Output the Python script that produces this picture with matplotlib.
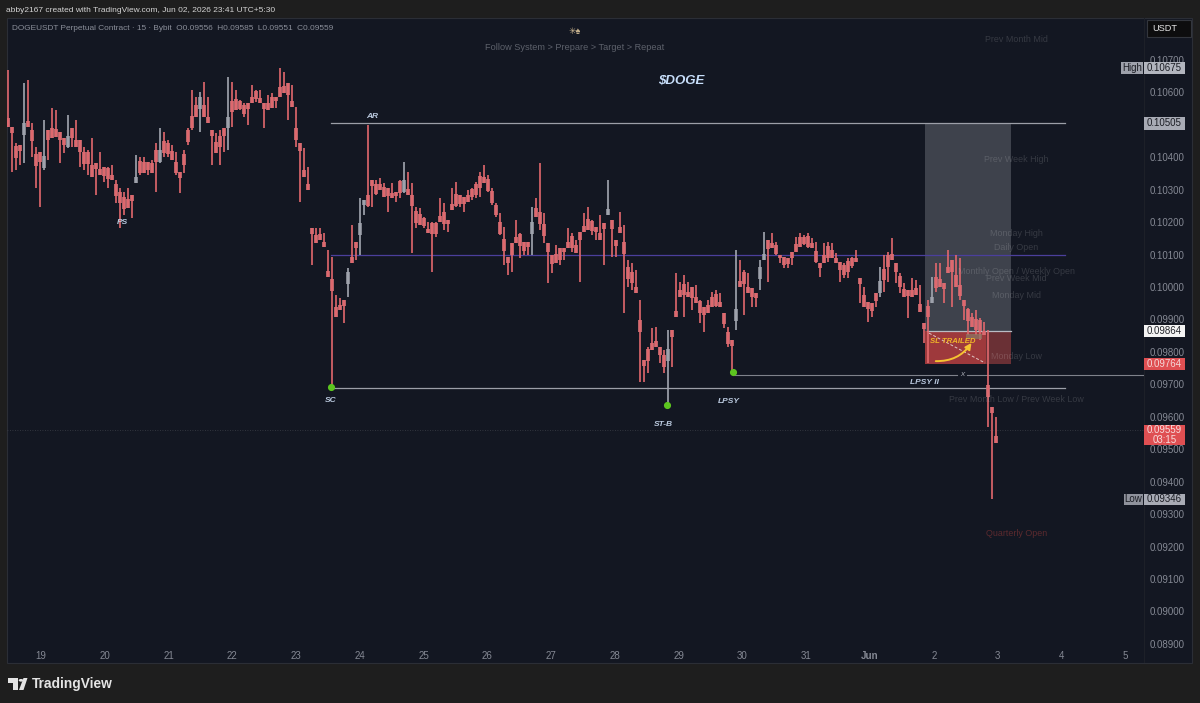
import matplotlib
matplotlib.use("Agg")
import matplotlib.pyplot as plt
import numpy as np
from matplotlib.patches import Rectangle, Polygon, Circle, FancyArrowPatch

plt.rcParams['font.family'] = ['Liberation Sans', 'DejaVu Sans']

# ---------------------------------------------------------------------------- #
#                        Data (prices in 1e-5 USDT, read by eye)               #
# ---------------------------------------------------------------------------- #
highs = [
    10669, 10493, 10444, 10438, 10629, 10638, 10506, 10432, 10416, 10515, 10484, 10552, 10546, 10478, 10460, 10530,
    10490, 10515, 10453, 10432, 10423, 10460, 10382, 10416, 10370, 10370, 10376, 10330, 10305, 10293, 10305, 10284,
    10407, 10401, 10401, 10386, 10392, 10444, 10490, 10478, 10453, 10438, 10416, 10355, 10423, 10490, 10608, 10586,
    10601, 10632, 10586, 10484, 10475, 10484, 10490, 10648, 10632, 10608, 10577, 10567, 10567, 10623, 10608, 10608,
    10567, 10592, 10598, 10586, 10675, 10663, 10629, 10623, 10555, 10444, 10429, 10370, 10182, 10182, 10182, 10167,
    10114, 10093, 9975, 9966, 9960, 10059, 10191, 10139, 10275, 10268, 10500, 10330, 10330, 10336, 10321, 10305,
    10321, 10293, 10330, 10386, 10355, 10321, 10247, 10244, 10216, 10201, 10201, 10201, 10275, 10259, 10207, 10305,
    10324, 10284, 10278, 10299, 10305, 10324, 10355, 10376, 10345, 10305, 10259, 10228, 10185, 10093, 10136, 10207,
    10167, 10139, 10139, 10247, 10275, 10382, 10228, 10136, 10099, 10130, 10120, 10120, 10182, 10167, 10145, 10170,
    10228, 10247, 10207, 10185, 10222, 10197, 10330, 10207, 10145, 10231, 10191, 10083, 10074, 10053, 9960, 9775,
    9815, 9874, 9877, 9815, 9806, 9868, 9868, 10043, 10016, 10037, 10016, 10000, 10006, 9960, 9938, 9960,
    9985, 9991, 9982, 9920, 9877, 9837, 10114, 10083, 10053, 10043, 9997, 9982, 10083, 10170, 10145, 10167,
    10139, 10099, 10093, 10090, 10108, 10154, 10167, 10160, 10167, 10151, 10139, 10074, 10136, 10139, 10136, 10105,
    10077, 10074, 10090, 10093, 10114, 10028, 10000, 9954, 9951, 9982, 10062, 10099, 10108, 10151, 10074, 10043,
    10012, 9991, 10028, 10022, 10006, 9889, 9960, 10031, 10074, 10074, 10012, 10114, 10083, 10099, 10090, 9960,
    9935, 9920, 9929, 9905, 9892, 9868, 9630, 9599,
]
lows = [
    10493, 10355, 10361, 10376, 10382, 10493, 10401, 10305, 10247, 10361, 10392, 10460, 10463, 10382, 10413, 10429,
    10432, 10432, 10370, 10361, 10345, 10339, 10284, 10345, 10324, 10305, 10330, 10259, 10182, 10222, 10244, 10213,
    10321, 10345, 10352, 10345, 10352, 10293, 10382, 10401, 10401, 10392, 10345, 10290, 10352, 10438, 10484, 10524,
    10478, 10524, 10506, 10376, 10413, 10376, 10416, 10423, 10493, 10546, 10546, 10524, 10500, 10567, 10571, 10567,
    10490, 10546, 10552, 10552, 10586, 10598, 10515, 10555, 10432, 10262, 10339, 10299, 10068, 10136, 10145, 10123,
    10031, 9692, 9908, 9929, 9889, 9969, 10074, 10083, 10099, 10222, 10247, 10247, 10284, 10299, 10278, 10231,
    10275, 10262, 10275, 10290, 10284, 10105, 10182, 10191, 10182, 10167, 10046, 10154, 10201, 10176, 10170, 10238,
    10247, 10247, 10231, 10262, 10268, 10275, 10278, 10321, 10293, 10253, 10216, 10160, 10068, 10037, 10046, 10136,
    10090, 10099, 10099, 10099, 10216, 10176, 10136, 10012, 10043, 10074, 10068, 10083, 10120, 10108, 10105, 10016,
    10170, 10176, 10160, 10145, 10145, 10068, 10222, 10093, 10093, 10167, 9920, 10000, 9991, 9982, 9707, 9707,
    9735, 9806, 9815, 9766, 9735, 9636, 9754, 9908, 9969, 9908, 9969, 9929, 9951, 9889, 9861, 9920,
    9938, 9938, 9938, 9874, 9815, 9738, 9868, 10000, 9914, 9982, 9938, 9938, 9991, 10083, 10016, 10120,
    10099, 10074, 10059, 10059, 10068, 10108, 10123, 10130, 10120, 10120, 10074, 10031, 10074, 10077, 10090, 10074,
    10016, 10028, 10028, 10059, 10077, 9951, 9938, 9892, 9908, 9938, 9969, 9985, 10016, 10083, 10012, 9982,
    9969, 9905, 9969, 9975, 9923, 9828, 9766, 9951, 9985, 10000, 9951, 10043, 9938, 10000, 9960, 9898,
    9852, 9877, 9852, 9837, 9852, 9568, 9346, 9519,
]
# bars that read grey (rising) instead of red in the picture
rising_bars = [4, 9, 15, 32, 38, 48, 55, 85, 88, 89, 99, 131, 150, 165, 182, 188, 189, 218, 231]

price_ticks = [0.107, 0.106, 0.104, 0.103, 0.102, 0.101, 0.100, 0.099, 0.098, 0.097, 0.096, 0.095,
               0.094, 0.093, 0.092, 0.091, 0.090, 0.089]
day_ticks = [19, 20, 21, 22, 23, 24, 25, 26, 27, 28, 29, 30, 31, 32, 33, 34, 35, 36]
day_labels = ['19', '20', '21', '22', '23', '24', '25', '26', '27', '28', '29', '30', '31', 'Jun', '2', '3', '4', '5']

# levels
LEVEL_AR = 0.10505
LEVEL_SC = 0.09690
LEVEL_PURPLE = 0.10099
LEVEL_LPSY2 = 0.09730
LAST_PRICE = 0.09559
ENTRY = 0.09864
STOP = 0.09764

# ---------------------------------------------------------------------------- #
#                                    Layout                                    #
# ---------------------------------------------------------------------------- #
W, H = 1200, 703
PX_PER_DAY = 63.77
BAR_STEP = 4 / PX_PER_DAY
FIRST_BAR = 18.4826

FIG_BG = '#1e1e1e'
PANE_BG = '#131722'
RED = '#e2686d'
GREY = '#a2a6b0'
BODY_RED = '#cf6d73'
BODY_GREY = '#8f929c'
FAINT = (1, 1, 1, 0.15)
LABEL = '#bccbe0'


def day(px):
    return 19 + (px - 41) / PX_PER_DAY


def fx(px):
    return px / W


def fy(py):
    return 1 - py / H


fig = plt.figure(figsize=(W / 100, H / 100), dpi=100, facecolor=FIG_BG)

# pane background and the right price scale strip
fig.patches.append(Rectangle((fx(7), fy(663)), fx(1192) - fx(7), fy(18) - fy(663), transform=fig.transFigure,
                             facecolor=PANE_BG, edgecolor='#2b2e36', lw=0.8, zorder=-1))
fig.patches.append(Rectangle((fx(1144), fy(663)), 0.6 / W, fy(18) - fy(663), transform=fig.transFigure,
                             facecolor='#1d2028', lw=0, zorder=-1))

ax = fig.add_axes([fx(7), fy(646), fx(1144) - fx(7), fy(18) - fy(646)])
ax.patch.set_alpha(0)
ax.set_xlim(day(7), day(1144))
ax.set_ylim(0.088934, 0.108295)
for s in ax.spines.values():
    s.set_visible(False)

ax.yaxis.tick_right()
ax.set_yticks(price_ticks)
ax.set_yticklabels(['%.5f' % p for p in price_ticks])
ax.set_xticks(day_ticks)
ax.set_xticklabels(day_labels)
ax.tick_params(axis='y', length=0, pad=4, labelsize=7, labelcolor='#858994')
ax.tick_params(axis='x', length=0, pad=3.5, labelsize=7, labelcolor='#858994')
ax.get_xticklabels()[13].set_fontweight('bold')

# position boxes, behind the candles
ax.add_patch(Rectangle((day(925), ENTRY), day(1011) - day(925), LEVEL_AR - ENTRY, facecolor='#6a6d76', alpha=0.5, lw=0))
ax.add_patch(Rectangle((day(925), STOP), day(1011) - day(925), ENTRY - STOP, facecolor='#6a3035', lw=0))
ax.add_patch(Rectangle((day(925), STOP), day(986) - day(925), ENTRY - STOP, facecolor='#9e393c', lw=0))
ax.plot([day(927), day(1011)], [ENTRY, ENTRY], color='#b9bcc4', lw=0.9)

# levels
ax.plot([day(331), day(1065)], [LEVEL_AR, LEVEL_AR], color='#9c9fa8', lw=0.9)
ax.plot([day(331), day(1065)], [LEVEL_SC, LEVEL_SC], color='#9c9fa8', lw=0.9)
ax.plot([day(331), day(1065)], [LEVEL_PURPLE, LEVEL_PURPLE], color='#4b3f9c', lw=0.9)
ax.plot([day(733), day(957)], [LEVEL_LPSY2, LEVEL_LPSY2], color='#7f828b', lw=0.8)
ax.plot([day(967), day(1144)], [LEVEL_LPSY2, LEVEL_LPSY2], color='#7f828b', lw=0.8)
ax.plot([day(7), day(1144)], [LAST_PRICE, LAST_PRICE], color='#3c3f48', lw=0.6, ls=(0, (1, 2)))

# candles: thin wick over the full range, wider body around where neighbours trade
high_prices = np.array(highs) / 1e5
low_prices = np.array(lows) / 1e5
mids = (high_prices + low_prices) / 2
bar_days = FIRST_BAR + np.arange(len(highs)) * BAR_STEP
wick_colors = [GREY if i in rising_bars else RED for i in range(len(highs))]
body_colors = [BODY_GREY if i in rising_bars else BODY_RED for i in range(len(highs))]

near = np.convolve(np.pad(mids, 1, mode='edge'), [0.5, 0, 0.5], mode='valid')
body_mid = np.clip(near, low_prices, high_prices)
body_half = np.minimum((high_prices - low_prices) * 0.35, 0.00018)
body_top = np.minimum(body_mid + body_half, high_prices)
body_bot = np.maximum(body_mid - body_half, low_prices)

ax.vlines(bar_days, body_bot, body_top, colors=body_colors, lw=2.7, zorder=3)
ax.vlines(bar_days, low_prices, high_prices, colors=wick_colors, lw=1.2, zorder=3)

# swing markers
ax.scatter([day(331), day(667), day(733)], [0.09692, 0.09636, 0.09738], s=17, color='#5cc51f', zorder=5)

# trailed stop drawing
ax.plot([day(929), day(985)], [0.09858, 0.09766], color='#e0c8c8', lw=0.7, ls=(0, (3, 2)), zorder=4)
ax.add_patch(Rectangle((day(966), 0.09840), day(982) - day(966), 0.00014, facecolor='#8a7a66', alpha=0.7, lw=0, zorder=4))
ax.add_patch(FancyArrowPatch((day(933), 0.09772), (day(973), 0.09835), connectionstyle='arc3,rad=0.3',
                             arrowstyle='-|>', mutation_scale=9, color='#f6c331', lw=1.4, zorder=6))
ax.text(day(953), 0.09833, 'SL TRAILED', color='#f0b429', fontsize=5.6, fontstyle='italic', fontweight='bold',
        ha='center', va='center', zorder=7)
ax.text(day(962), 0.09730, 'x', color='#a0a3ac', fontsize=6, fontstyle='italic', ha='center', va='center')

# wyckoff labels
swing_labels = [('AR', 372, 0.10527), ('PS', 122, 0.10199), ('SC', 331, 0.09650), ('ST-B', 663, 0.09577),
                ('LPSY', 729, 0.09647), ('LPSY II', 925, 0.09706)]
for name, px, price in swing_labels:
    ax.text(day(px), price, name, color=LABEL, fontsize=6, fontstyle='italic', fontweight='bold', ha='center', va='center')

# faint session labels
session_labels = [('Prev Month Mid', 40), ('Prev Week High', 159), ('Monday High', 234), ('Daily Open', 248),
                  ('Monthly Open / Weekly Open', 271), ('Prev Week Mid', 279), ('Monday Mid', 295), ('Monday Low', 357),
                  ('Prev Month Low / Prev Week Low', 400)]
for name, py in session_labels:
    fig.text(fx(1016), fy(py), name, color=FAINT, fontsize=6.4, ha='center', va='center', zorder=6)
fig.text(fx(1017), fy(534), 'Quarterly Open', color='#5c2a2e', fontsize=6.4, ha='center', va='center')

# ---------------------------------------------------------------------------- #
#                                 Header / text                                #
# ---------------------------------------------------------------------------- #
fig.text(fx(6), fy(10), 'abby2167 created with TradingView.com, Jun 02, 2026 23:41 UTC+5:30', color='#d4d4d4',
         fontsize=6.0, va='center')
fig.text(fx(12), fy(28), 'DOGEUSDT Perpetual Contract \u00b7 15 \u00b7 Bybit  O0.09556  H0.09585  L0.09551  C0.09559',
         color='#8a8e99', fontsize=5.95, va='center')
fig.text(fx(575), fy(31), '\u2733\u2660', color='#c9b48f', fontsize=6.5, ha='center', va='center')
fig.text(fx(575), fy(47), 'Follow System > Prepare > Target > Repeat', color='#5d616b', fontsize=6.6, ha='center', va='center')
fig.text(fx(681), fy(81), r'\$DOGE', color='#c7defa', fontsize=9.5, fontstyle='italic', fontweight='bold', ha='center', va='center')


# ---------------------------------------------------------------------------- #
#                               Price scale tags                               #
# ---------------------------------------------------------------------------- #
def tag(x0, x1, y0, y1, face, lines, color):
    fig.patches.append(Rectangle((fx(x0), fy(y1)), fx(x1) - fx(x0), fy(y0) - fy(y1), transform=fig.transFigure,
                                 facecolor=face, lw=0, zorder=8))
    step = (y1 - y0) / len(lines)
    for i, line in enumerate(lines):
        fig.text(fx((x0 + x1) / 2), fy(y0 + step * (i + 0.5)), line, color=color, fontsize=7, ha='center', va='center', zorder=9)


tag(1121, 1143, 62, 74, '#9ea1ab', ['High'], '#1b1d24')
tag(1144, 1185, 62, 74, '#b2b5be', ['0.10675'], '#1b1d24')
tag(1144, 1185, 117, 130, '#a8abb5', ['0.10505'], '#1b1d24')
tag(1144, 1185, 325, 337, '#f4f4f4', ['0.09864'], '#23252b')
tag(1144, 1185, 358, 370, '#df4f52', ['0.09764'], '#f4d9d9')
tag(1144, 1185, 425, 445, '#df4f52', ['0.09559', '03:15'], '#f7dede')
tag(1124, 1143, 494, 505, '#8f929c', ['Low'], '#1b1d24')
tag(1144, 1185, 494, 505, '#a8abb5', ['0.09346'], '#1b1d24')

fig.patches.append(Rectangle((fx(1147), fy(37)), fx(1191) - fx(1147), fy(20) - fy(37), transform=fig.transFigure,
                             facecolor='#0d0d0e', edgecolor='#33363d', lw=0.8, zorder=8))
fig.text(fx(1152), fy(28.5), 'USDT', color='#e6e6e6', fontsize=6.6, va='center', zorder=9)

# TradingView logo
fig.patches.append(Rectangle((fx(8), fy(683)), fx(18) - fx(8), fy(678) - fy(683), transform=fig.transFigure, facecolor='#e4e4e4', lw=0))
fig.patches.append(Rectangle((fx(12.5), fy(690)), fx(18) - fx(12.5), fy(678) - fy(690), transform=fig.transFigure, facecolor='#e4e4e4', lw=0))
fig.patches.append(Polygon([(fx(19), fy(690)), (fx(23.5), fy(678)), (fx(27.5), fy(678)), (fx(23.5), fy(690))],
                           transform=fig.transFigure, facecolor='#e4e4e4', lw=0))
fig.patches.append(Circle((fx(21), fy(680.3)), 2.3 / W, transform=fig.transFigure, facecolor='#e4e4e4', lw=0))
fig.text(fx(32), fy(684), 'TradingView', color='#e4e4e4', fontsize=9.9, fontweight='bold', va='center')

fig.savefig('out.png', dpi=100, facecolor=FIG_BG)
